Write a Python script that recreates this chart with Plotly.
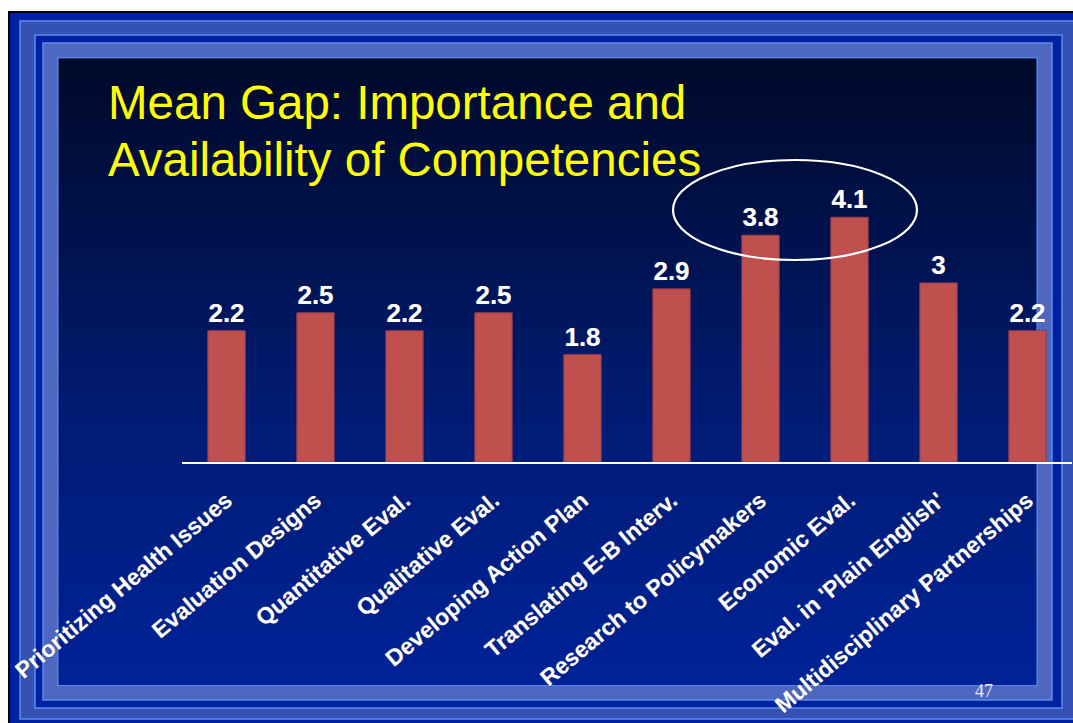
import plotly.graph_objects as go

# Competency categories and mean gap values
categories = [
    "Prioritizing Health Issues",
    "Evaluation Designs",
    "Quantitative Eval.",
    "Qualitative Eval.",
    "Developing Action Plan",
    "Translating E-B Interv.",
    "Research to Policymakers",
    "Economic Eval.",
    "Eval. in 'Plain English'",
    "Multidisciplinary Partnerships",
]
mean_gap = [2.2, 2.5, 2.2, 2.5, 1.8, 2.9, 3.8, 4.1, 3.0, 2.2]
value_labels = [f"{v:g}" for v in mean_gap]

title_lines = ["Mean Gap: Importance and", "Availability of Competencies"]
slide_number = "47"

# Page geometry (pixels)
W, H = 1073, 723
M_L, M_R, M_T, M_B = 182, 1, 193, 261
PLOT_W = W - M_L - M_R
PLOT_H = H - M_T - M_B
PX_PER_UNIT = 59.7


def px(x):
    return (x - M_L) / PLOT_W


def py(y):
    return (H - M_B - y) / PLOT_H


LINE = "#5b8cef"
shapes = []


def rect(x0, y0, x1, y1, fill, border=None, layer="below"):
    shapes.append(dict(
        type="rect", xref="paper", yref="paper", layer=layer,
        x0=px(x0), x1=px(x1), y0=py(y0), y1=py(y1),
        fillcolor=fill,
        line=dict(color=border or fill, width=1.5 if border else 0),
    ))


# Nested slide frame
rect(8, 11, 1090, 740, "#000000")
rect(10, 13, 1090, 740, "#0021a0")
rect(20, 21, 1090, 719, "#3452b3", LINE)
rect(35, 35, 1062, 708, "#0021a0", LINE)
rect(43, 43, 1052, 700, "#4e68c1", LINE)
rect(58, 58, 1037, 685, "#00105a", LINE)

# Vertical gradient of the inner panel
top_c = (0, 9, 40)
mid_c = (0, 28, 118)
bot_c = (0, 34, 152)
y_top, y_bot = 58.5, 684.5
n = 80
step = (y_bot - y_top) / n
for i in range(n):
    t = (i + 0.5) / n
    if t < 0.6:
        u = t / 0.6
        c = [a + (b - a) * u for a, b in zip(top_c, mid_c)]
    else:
        u = (t - 0.6) / 0.4
        c = [a + (b - a) * u for a, b in zip(mid_c, bot_c)]
    shapes.append(dict(
        type="rect", xref="paper", yref="paper", layer="below",
        x0=px(58.7), x1=px(1036.3),
        y0=py(y_top + i * step), y1=py(y_top + (i + 1) * step + 0.6),
        fillcolor="rgb(%d,%d,%d)" % tuple(round(v) for v in c),
        line=dict(width=0),
    ))

# Highlight ellipse around the two largest gaps
shapes.append(dict(
    type="circle", xref="paper", yref="paper", layer="above",
    x0=px(673), x1=px(917), y0=py(160), y1=py(260),
    line=dict(color="white", width=2.2),
))

fig = go.Figure()
fig.add_trace(go.Bar(
    x=categories,
    y=mean_gap,
    text=value_labels,
    textposition="outside",
    constraintext="none",
    cliponaxis=False,
    textfont=dict(family="Liberation Sans, Arial", size=26, color="white",
                  weight="bold", shadow="0px 0px 1px #6a6a80"),
    marker=dict(color="#c0504e", line=dict(color="#8a3a55", width=1)),
    hoverinfo="skip",
))

title_font = dict(family="Liberation Sans, Arial", size=47.5, color="#ffff00")
annotations = [
    dict(
        xref="paper", yref="paper", x=px(106), y=py(top),
        xanchor="left", yanchor="top", align="left",
        text=line, showarrow=False, font=title_font,
    )
    for line, top in zip(title_lines, (73.5, 130.5))
]
annotations.append(dict(
    xref="paper", yref="paper", x=px(984), y=py(691),
    xanchor="center", yanchor="middle",
    text=slide_number, showarrow=False,
    font=dict(family="Liberation Serif, Times New Roman", size=18,
              color="#e8e8f4"),
))

fig.update_layout(
    width=W, height=H,
    margin=dict(l=M_L, r=M_R, t=M_T, b=M_B, autoexpand=False),
    paper_bgcolor="white",
    plot_bgcolor="rgba(0,0,0,0)",
    showlegend=False,
    bargap=0.58,
    shapes=shapes,
    annotations=annotations,
    xaxis=dict(
        showline=True, linecolor="white", linewidth=2,
        showgrid=False, zeroline=False, ticks="",
        tickangle=-40, automargin=False, ticklabelstandoff=14,
        tickfont=dict(family="Liberation Sans, Arial", size=23, color="white",
                      weight="bold", shadow="0px 0px 1.5px #50506a"),
    ),
    yaxis=dict(
        range=[0, PLOT_H / PX_PER_UNIT], visible=False,
        showgrid=False, zeroline=False, automargin=False,
    ),
)

fig.write_html("out.html")
